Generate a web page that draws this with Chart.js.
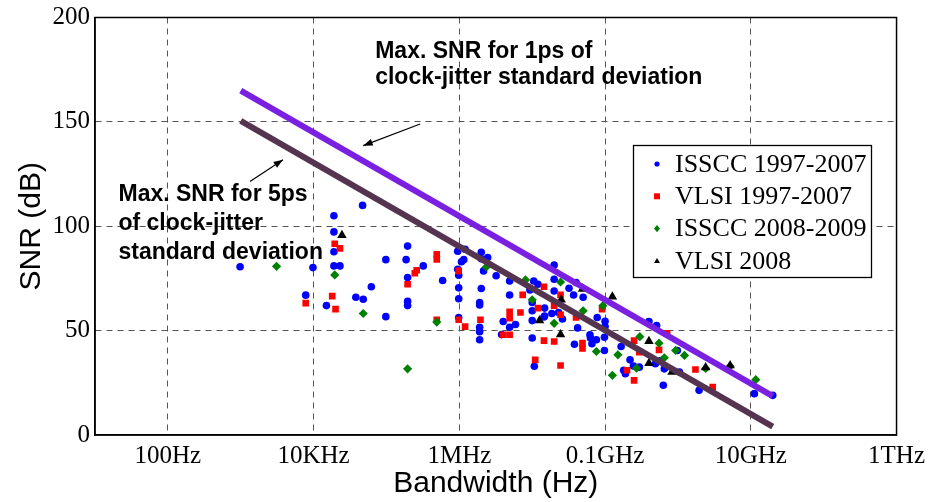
<!DOCTYPE html>
<html>
<head>
<meta charset="utf-8">
<script src="https://cdn.jsdelivr.net/npm/chart.js@4.4.0/dist/chart.umd.min.js"></script>
<style>
  html, body { margin: 0; padding: 0; background: #fff; }
  #wrap { width: 931px; height: 502px; position: relative; }
</style>
</head>
<body>
<div id="wrap"><canvas id="snrChart"></canvas></div>
<script>
var xTickValues = [1e2, 1e4, 1e6, 1e8, 1e10, 1e12];
var xTickLabels = ['100Hz', '10KHz', '1MHz', '0.1GHz', '10GHz', '1THz'];
var seriesNames = ['ISSCC 1997-2007', 'VLSI 1997-2007', 'ISSCC 2008-2009', 'VLSI 2008'];

// ISSCC 1997-2007 (blue dots)
var isscc9707Bw = [
  9.8e2, 9.8e3, 1.9e4, 1.9e4, 1.9e4, 1.9e4, 2.3e4, 4.7e4, 7.8e3, 1.5e4,
  3.8e4, 4.8e4, 6.2e4, 9.8e4, 9.8e4, 1.86e5, 1.95e5, 1.95e5, 1.95e5, 1.95e5,
  3.2e5, 5.9e5, 9.5e5, 1.2e6, 1.15e6, 1.07e6, 2e6, 2e6, 2.45e6, 2.15e6,
  9.5e5, 9.8e5, 9.8e5, 9.8e5, 2e6, 1.9e6, 1.9e6, 3.2e6, 4.9e6, 4.9e6,
  9.8e5, 1.9e6, 1.9e6, 1.9e6, 4e6, 4.9e6, 5.9e6, 3.8e6, 1e7, 1e7,
  1e7, 1e7, 1.05e7, 1.2e7, 9.3e6, 1.48e7, 1.48e7, 2e7, 2e7, 2e7,
  1.45e7, 1.86e7, 2.6e7, 3.2e7, 3.7e7, 4e7, 5e7, 4.2e7, 3.8e7, 6.3e7,
  7.8e7, 1e8, 1e8, 9.8e7, 9.8e7, 1.07e7, 7.6e7, 6.6e7, 1.8e8, 2.2e8,
  2.45e8, 4e8, 5.1e8, 6.3e8, 5.8e8, 4.9e8, 6.5e8, 9.8e8, 1.05e9, 1.95e9,
  1.12e10, 2e10, 2.95e8, 1.9e8, 1.66e8, 6.2e7, 2.3e7
];
var isscc9707Snr = [
  80.6, 80.2, 105, 97.3, 87.8, 81, 81, 110, 67, 62,
  66, 65, 71, 84, 56.7, 84, 90.5, 75.4, 64, 62,
  81, 74, 88, 89, 84, 83, 87.5, 84.4, 85, 78.6,
  79.4, 76.5, 70.5, 65.3, 70.2, 63.5, 62.3, 76.3, 73.8, 67.1,
  56.3, 51.6, 49.5, 45.6, 54.4, 51.6, 52.9, 48.1, 46.5, 54.8,
  59.5, 63.5, 73.8, 72.2, 69.5, 60.8, 57, 81.4, 74.6, 69,
  56.5, 58.2, 55.6, 70.3, 67.1, 73, 66, 51.3, 43.5, 46.5,
  56.3, 54.5, 52, 46.8, 40.5, 32.9, 45.6, 43.7, 31, 36,
  33, 54.4, 52.4, 23.8, 35.7, 34.1, 31.7, 40.5, 30.2, 21.4,
  19.8, 19, 32.5, 29.4, 42.4, 48, 58.7
];

// VLSI 1997-2007 (red squares)
var vlsi9707Bw = [
  7.8e3, 1.8e4, 2e4, 1.95e4, 2.3e4, 1.95e5, 2.45e5, 2.6e5, 4.9e5, 4.9e5,
  4.9e5, 9.8e5, 9.8e5, 1.2e6, 1.95e6, 4.9e6, 4.9e6, 4e6, 4.9e6, 6.9e6,
  7.4e6, 1.2e7, 1.45e7, 1.45e7, 2e7, 2e7, 2.45e7, 2.45e7, 1.1e7, 2.45e7,
  4e7, 4.9e7, 4.9e7, 9.1e7, 2.5e8, 2.95e8, 2e8, 2.5e8, 5.5e8, 7.1e8,
  1.74e9, 3e9
];
var vlsi9707Snr = [
  63.2, 66.5, 60.3, 91.6, 89.4, 72.2, 77.5, 78.9, 86.5, 84.1,
  55.2, 78.6, 55.2, 51.9, 55.2, 59, 56, 48, 48, 58.7,
  67.1, 60.8, 71, 45.2, 44.8, 61.9, 67.1, 57.6, 36, 33.3,
  56.3, 44, 41.5, 60.3, 45.2, 39.7, 31, 26.2, 40.8, 48.7,
  31.4, 23
];

// ISSCC 2008-2009 (green diamonds)
var isscc0809Bw = [
  3.1e3, 1.95e4, 4.8e4, 1.95e5, 4.9e5, 2.35e6, 8.1e6, 1e7, 2.45e7, 2e7,
  5e7, 9.3e7, 7.6e7, 1.5e8, 1.26e8, 2.7e8, 3e8, 5.5e8, 6.5e8, 9.3e8,
  1.23e9, 2.4e9, 5.2e9, 1.17e10
];
var isscc0809Snr = [
  80.8, 76.7, 58.2, 31.7, 54.1, 80.5, 74.3, 64.8, 73.3, 53.5,
  59.5, 61.9, 40, 38.4, 28.6, 32, 47.1, 44, 37, 40.5,
  38.1, 31.9, 32.9, 26.5
];

// VLSI 2008 (black triangles)
var vlsi08Bw = [2.45e4, 2.5e7, 1.26e7, 2.45e7, 1.26e8, 4.9e7, 4e8, 4e8, 8.3e8, 2.4e9, 5.2e9];
var vlsi08Snr = [95.7, 64.8, 54.8, 48.1, 66.2, 70, 44.9, 34.4, 30.2, 32.3, 33.3];

// jitter limit lines (end points)
var jitter1psBw = [1e3, 2e10];
var jitter1psSnr = [165, 18.6];
var jitter5psBw = [1e3, 2e10];
var jitter5psSnr = [150.5, 4];

function pts(bw, snr) {
  return bw.map(function (b, i) { return { x: b, y: snr[i] }; });
}

var serif = 'Liberation Serif, Times New Roman, serif';
var sans = 'Liberation Sans, Arial, sans-serif';

// text + arrows, anchored in data units
var notes = [
  { x: 7e4, y: 180.5, text: 'Max. SNR for 1ps of' },
  { x: 7e4, y: 168, text: 'clock-jitter standard deviation' },
  { x: 21, y: 112, text: 'Max. SNR for 5ps' },
  { x: 21, y: 98.2, text: 'of clock-jitter' },
  { x: 21, y: 84.4, text: 'standard deviation' }
];
var arrows = [
  { x1: 2.9e5, y1: 149, x2: 4.8e4, y2: 138.6 },
  { x1: 1.34e3, y1: 121.4, x2: 3.8e3, y2: 131.9 }
];

var colors = ['#0000ff', '#ff0000', '#008000', '#000000'];
var styles = ['circle', 'rect', 'rectRot', 'triangle'];

function drawMarker(c, style, x, y, r, color) {
  c.fillStyle = color;
  c.beginPath();
  if (style === 'circle') {
    c.arc(x, y, r, 0, Math.PI * 2);
  } else if (style === 'rect') {
    c.rect(x - r, y - r, 2 * r, 2 * r);
  } else if (style === 'rectRot') {
    c.moveTo(x, y - r * 1.2); c.lineTo(x + r, y); c.lineTo(x, y + r * 1.2); c.lineTo(x - r, y);
  } else {
    c.moveTo(x, y - r); c.lineTo(x + r, y + r * 0.7); c.lineTo(x - r, y + r * 0.7);
  }
  c.closePath();
  c.fill();
}

var extrasPlugin = {
  id: 'extras',
  afterDraw: function (chart) {
    var c = chart.ctx, a = chart.chartArea, xs = chart.scales.x, ys = chart.scales.y;
    c.save();
    // frame
    c.strokeStyle = '#000';
    c.lineWidth = 1.5;
    c.strokeRect(a.left, a.top, a.right - a.left, a.bottom - a.top);

    // annotation text
    c.fillStyle = '#000';
    c.font = 'bold 23px ' + sans;
    c.textBaseline = 'alphabetic';
    c.textAlign = 'left';
    notes.forEach(function (n) {
      c.fillText(n.text, xs.getPixelForValue(n.x), ys.getPixelForValue(n.y));
    });

    // arrows
    c.lineWidth = 1.2;
    arrows.forEach(function (ar) {
      var x1 = xs.getPixelForValue(ar.x1), y1 = ys.getPixelForValue(ar.y1);
      var x2 = xs.getPixelForValue(ar.x2), y2 = ys.getPixelForValue(ar.y2);
      var ang = Math.atan2(y2 - y1, x2 - x1);
      c.beginPath(); c.moveTo(x1, y1); c.lineTo(x2, y2); c.stroke();
      c.beginPath();
      c.moveTo(x2, y2);
      c.lineTo(x2 - 10 * Math.cos(ang - 0.35), y2 - 10 * Math.sin(ang - 0.35));
      c.lineTo(x2 - 10 * Math.cos(ang + 0.35), y2 - 10 * Math.sin(ang + 0.35));
      c.closePath(); c.fill();
    });

    // legend box
    var lx = 633.5, ly = 145.5, lw = 238, lh = 132;
    c.fillStyle = '#fff';
    c.fillRect(lx, ly, lw, lh);
    c.strokeStyle = '#000';
    c.lineWidth = 1.3;
    c.strokeRect(lx, ly, lw, lh);
    c.font = '26px ' + serif;
    c.textBaseline = 'middle';
    seriesNames.forEach(function (name, i) {
      var cy = 164 + i * 32.3;
      drawMarker(c, styles[i], 657, cy, i === 0 ? 2.6 : 3, colors[i]);
      c.fillStyle = '#000';
      c.fillText(name, 675, cy + 1);
    });
    c.restore();
  }
};

var ctx = document.getElementById('snrChart').getContext('2d');
var snrChart = new Chart(ctx, {
  type: 'scatter',
  data: {
    datasets: [
      { label: '1ps', data: pts(jitter1psBw, jitter1psSnr), showLine: true, borderColor: '#7b1fe0', borderWidth: 6, pointRadius: 0, order: 0 },
      { label: '5ps', data: pts(jitter5psBw, jitter5psSnr), showLine: true, borderColor: '#54344f', borderWidth: 6, pointRadius: 0, order: 1 },
      { label: seriesNames[3], data: pts(vlsi08Bw, vlsi08Snr), pointStyle: 'triangle', pointRadius: 5.5, backgroundColor: colors[3], pointBorderWidth: 0, order: 2 },
      { label: seriesNames[2], data: pts(isscc0809Bw, isscc0809Snr), pointStyle: 'rectRot', pointRadius: 4.6, backgroundColor: colors[2], pointBorderWidth: 0, order: 3 },
      { label: seriesNames[1], data: pts(vlsi9707Bw, vlsi9707Snr), pointStyle: 'rect', pointRadius: 4.7, backgroundColor: colors[1], pointBorderWidth: 0, order: 4 },
      { label: seriesNames[0], data: pts(isscc9707Bw, isscc9707Snr), pointStyle: 'circle', pointRadius: 3.8, backgroundColor: colors[0], pointBorderWidth: 0, order: 5 }
    ]
  },
  options: {
    responsive: true,
    maintainAspectRatio: false,
    animation: false,
    layout: { padding: { top: 15, right: 34, left: 0, bottom: 0 } },
    plugins: { legend: { display: false }, tooltip: { enabled: false } },
    scales: {
      x: {
        type: 'logarithmic',
        min: 10,
        max: 1e12,
        afterBuildTicks: function (s) { s.ticks = xTickValues.map(function (v) { return { value: v }; }); },
        afterFit: function (s) { s.height = 67; },
        ticks: {
          autoSkip: false, maxRotation: 0, padding: 6, color: '#000',
          font: { family: serif, size: 25 },
          callback: function (v, i) { return xTickLabels[i]; }
        },
        grid: {
          drawTicks: false, lineWidth: 1,
          color: function (c) { return c.tick && c.tick.value < 1e12 ? '#555' : 'rgba(0,0,0,0)'; }
        },
        border: { display: true, color: '#000', width: 1.5, dash: [6, 5] },
        title: { display: true, text: 'Bandwidth (Hz)', color: '#000', font: { family: sans, size: 30 }, padding: { top: 0, bottom: 0 } }
      },
      y: {
        min: 0,
        max: 200,
        afterFit: function (s) { s.width = 95; },
        ticks: { stepSize: 50, padding: 5, color: '#000', font: { family: serif, size: 25, lineHeight: 1 } },
        grid: {
          drawTicks: false, lineWidth: 1,
          color: function (c) { return c.tick && c.tick.value > 0 && c.tick.value < 200 ? '#555' : 'rgba(0,0,0,0)'; }
        },
        border: { display: true, color: '#000', width: 1.5, dash: [6, 5] },
        title: { display: true, text: 'SNR (dB)', color: '#000', font: { family: sans, size: 30 }, padding: { top: 14, bottom: 0 } }
      }
    }
  },
  plugins: [extrasPlugin]
});
</script>
</body>
</html>
